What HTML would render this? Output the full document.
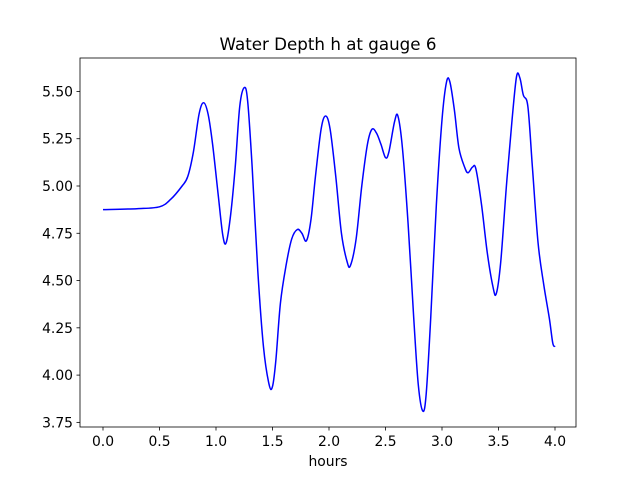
<!DOCTYPE html>
<html><head><meta charset="utf-8"><style>
body{margin:0;background:#fff;}
svg text{font-family:"DejaVu Sans","Liberation Sans",sans-serif;fill:#000;}
</style></head><body>
<svg id="chart" width="640" height="480" xmlns="http://www.w3.org/2000/svg">
<rect width="640" height="480" fill="#fff"/>
<text x="328" y="50" font-size="16.7" text-anchor="middle">Water Depth h at gauge 6</text>
<g id="axes"></g>
<path id="line" fill="none" stroke="#0000ff" stroke-width="1.5"/>
<rect x="80" y="58" width="496" height="369" fill="none" stroke="#000" stroke-width="0.8"/>
<text x="328" y="466" font-size="13.9" text-anchor="middle">hours</text>
</svg>
<script>
const times=[0,0.3,0.5,0.6,0.7,0.75,0.8,0.85,0.89,0.93,0.97,1.02,1.06,1.09,1.13,1.17,1.21,1.25,1.28,1.32,1.37,1.42,1.47,1.5,1.53,1.57,1.62,1.67,1.72,1.76,1.8,1.84,1.88,1.93,1.97,2.01,2.06,2.11,2.16,2.19,2.24,2.29,2.34,2.38,2.42,2.46,2.5,2.53,2.58,2.61,2.65,2.7,2.75,2.79,2.83,2.86,2.9,2.95,3.0,3.04,3.07,3.11,3.15,3.2,3.23,3.27,3.3,3.35,3.4,3.45,3.48,3.52,3.57,3.62,3.66,3.69,3.72,3.76,3.8,3.85,3.9,3.95,3.98,4.0];
const depths=[4.875,4.88,4.89,4.93,5.0,5.05,5.18,5.38,5.44,5.38,5.22,4.95,4.74,4.70,4.85,5.1,5.42,5.52,5.45,5.1,4.55,4.15,3.95,3.94,4.08,4.38,4.58,4.72,4.77,4.75,4.71,4.82,5.05,5.3,5.37,5.3,5.05,4.75,4.6,4.58,4.72,5.0,5.22,5.30,5.28,5.22,5.15,5.18,5.34,5.37,5.2,4.8,4.3,3.95,3.81,3.9,4.3,4.9,5.35,5.55,5.55,5.4,5.2,5.1,5.07,5.1,5.09,4.9,4.65,4.47,4.43,4.6,5.0,5.35,5.58,5.57,5.48,5.42,5.1,4.7,4.48,4.3,4.17,4.15];
const xTicks=["0.0","0.5","1.0","1.5","2.0","2.5","3.0","3.5","4.0"];
const yTicks=["3.75","4.00","4.25","4.50","4.75","5.00","5.25","5.50"];
const X=t=>103+t*113;
const Y=v=>186-(v-5)*189.1;
const ns="http://www.w3.org/2000/svg";
const ax=document.getElementById('axes');
function mk(tag,attrs){const e=document.createElementNS(ns,tag);for(const k in attrs)e.setAttribute(k,attrs[k]);ax.appendChild(e);return e;}
xTicks.forEach(l=>{const x=X(parseFloat(l));
const t=mk('line',{x1:x,x2:x,y1:427,y2:430.5,stroke:'#000','stroke-width':0.8});


const s=mk('text',{x:x,y:446,'font-size':13.9,'text-anchor':'middle'});s.textContent=l;

});
yTicks.forEach(l=>{const y=Y(parseFloat(l));
const t=mk('line',{x1:76.5,x2:80,y1:y,y2:y,stroke:'#000','stroke-width':0.8});


const s=mk('text',{x:73,y:y+5,'font-size':13.9,'text-anchor':'end'});s.textContent=l;

});
const p=times.map((t,i)=>[X(t),Y(depths[i])]);
let d='M'+p[0][0]+','+p[0][1];
for(let i=0;i<p.length-1;i++){const p0=p[Math.max(0,i-1)],p1=p[i],p2=p[i+1],p3=p[Math.min(p.length-1,i+2)];
d+=' C'+(p1[0]+(p2[0]-p0[0])/6)+','+(p1[1]+(p2[1]-p0[1])/6)+' '+(p2[0]-(p3[0]-p1[0])/6)+','+(p2[1]-(p3[1]-p1[1])/6)+' '+p2[0]+','+p2[1];}
document.getElementById('line').setAttribute('d',d);
</script>
</body></html>
